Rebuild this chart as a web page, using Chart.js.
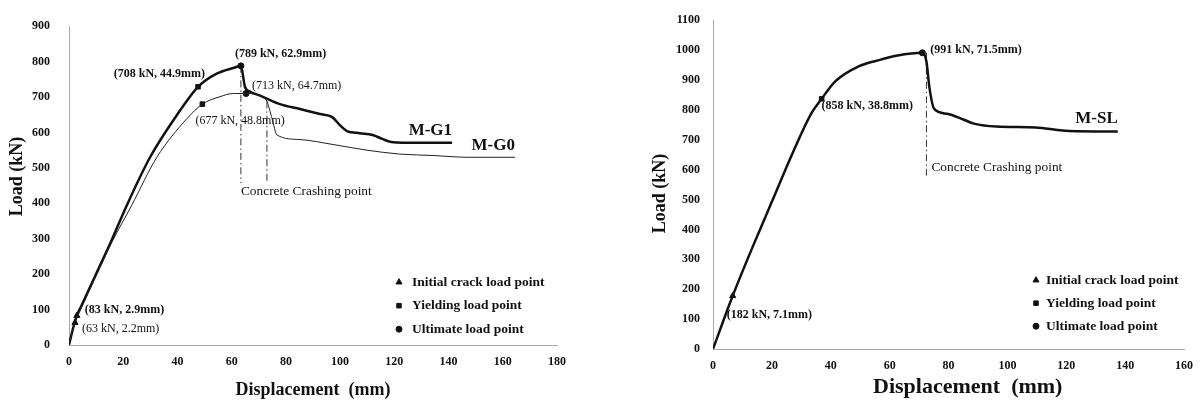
<!DOCTYPE html>
<html>
<head>
<meta charset="utf-8">
<script src="https://cdn.jsdelivr.net/npm/chart.js@4.4.1/dist/chart.umd.min.js"></script>
<style>
  body { margin: 0; background: #fff; width: 1203px; height: 403px; position: relative; overflow: hidden; }
  #box-g { position: absolute; left: 0; top: 0; width: 600px; height: 403px; }
  #box-sl { position: absolute; left: 600px; top: 0; width: 603px; height: 403px; }
</style>
</head>
<body>
<div id="box-g"><canvas id="carga-g"></canvas></div>
<div id="box-sl"><canvas id="carga-sl"></canvas></div>
<script>
// M-G1 / M-G0 (left chart)
const mg1Disp = [0, 1.6, 2.9, 4.7, 10.2, 15.1, 21.3, 29.9, 39.7, 47.6, 54.5, 60.6, 63.4, 64.9, 66.8, 70.5, 77.8, 85.2, 92.6, 97, 100, 102.5, 107.3, 112, 115.5, 118.4, 124.7, 141.3];
const mg1Load = [0, 50, 83, 113, 204, 285, 394, 530, 648, 729, 766, 782, 788, 729, 715, 704, 680, 666, 652, 644, 620, 604, 598, 593, 582, 574, 571, 571];
const mg0Disp = [0, 1.2, 2.2, 4.6, 10.3, 15.8, 23.1, 32.4, 43.5, 49.2, 55.7, 60.6, 65.3, 70.5, 73, 74.9, 76.7, 85.2, 97.4, 109.9, 122, 134.3, 146.8, 164.5];
const mg0Load = [0, 38, 63, 105, 200, 290, 394, 530, 639, 680, 701, 710, 710, 704, 688, 639, 593, 580, 566, 550, 539, 535, 530, 530];

// M-SL (right chart)
const mslDisp = [0, 6.7, 13.4, 20.1, 26.8, 33.5, 36.9, 41.6, 49.3, 57, 62.7, 71.1, 72.5, 73.5, 75.1, 79.5, 85.2, 88.6, 96.3, 109.7, 118.7, 129.8, 137.5];
const mslLoad = [0, 178, 340, 495, 650, 790, 837, 896, 945, 968, 982, 991, 962, 876, 804, 787, 767, 754, 744, 741, 731, 728, 728];

// crack / yielding / ultimate points [disp, load]
const mg1Crack = [2.9, 83], mg1Yield = [47.6, 729], mg1Ult = [63.4, 788];
const mg0Crack = [2.2, 63], mg0Yield = [49.2, 680], mg0Ult = [65.3, 710];
const mslCrack = [6.7, 178], mslYield = [36.9, 837], mslUlt = [71.1, 991];

// concrete crashing lines [disp, loadTop, loadBottom]
const crashG1 = [63.4, 788, 457];
const crashG0 = [73, 688, 457];
const crashSL = [72.5, 991, 580];

const ticksG = { xMax: 180, xStep: 20, yMax: 900, yStep: 100 };
const ticksSL = { xMax: 160, xStep: 20, yMax: 1100, yStep: 100 };

const legendNames = ['Initial crack load point', 'Yielding load point', 'Ultimate load point'];

const serif = 'Liberation Serif, Times New Roman, serif';

function pts(xs, ys) {
    return xs.map(function (x, i) { return { x: x, y: ys[i] }; });
}
function one(p) { return [{ x: p[0], y: p[1] }]; }
function vline(c) { return [{ x: c[0], y: c[1] }, { x: c[0], y: c[2] }]; }

// text labels anchored on data points + the little legend
const notesPlugin = {
    id: 'notes',
    afterDatasetsDraw(chart, args, opts) {
        const ctx = chart.ctx;
        const sx = chart.scales.x, sy = chart.scales.y;
        ctx.save();
        ctx.fillStyle = '#111';
        ctx.textBaseline = 'middle';
        opts.items.forEach(function (n) {
            ctx.font = (n.bold ? 'bold ' : '') + (n.size || 12) + 'px ' + serif;
            ctx.textAlign = n.align || 'left';
            ctx.fillText(n.text, sx.getPixelForValue(n.at[0]) + n.dx, sy.getPixelForValue(n.at[1]) + n.dy);
        });
        const lg = opts.legend;
        const styles = ['triangle', 'rect', 'circle'];
        const radii = [3.5, 3.2, 3];
        ctx.font = 'bold 13.5px ' + serif;
        ctx.textAlign = 'left';
        legendNames.forEach(function (name, i) {
            const x = chart.chartArea.left + lg.x;
            const y = chart.chartArea.top + lg.y + i * lg.gap;
            ctx.fillStyle = '#111';
            ctx.strokeStyle = '#111';
            Chart.helpers.drawPoint(ctx, { pointStyle: styles[i], radius: radii[i], rotation: 0, borderWidth: 1 }, x, y);
            ctx.fillStyle = '#111';
            ctx.fillText(name, x + lg.textGap, y);
        });
        ctx.restore();
    }
};

function markerSet(data, style, r) {
    return {
        data: data,
        showLine: false,
        pointStyle: style,
        pointRadius: r,
        backgroundColor: '#111',
        borderColor: '#111',
        borderWidth: 1
    };
}
function curveSet(data, w, color) {
    return {
        data: data,
        showLine: true,
        borderColor: color,
        borderWidth: w,
        pointRadius: 0,
        cubicInterpolationMode: 'monotone',
        fill: false
    };
}
function crashSet(data) {
    return {
        data: data,
        showLine: true,
        borderColor: '#333',
        borderWidth: 1,
        borderDash: [7, 3, 1.5, 3],
        pointRadius: 0
    };
}

function axes(t, yw, xh, yTitlePad, yTickPad, xTitle, xTitleSize, yTitle) {
    return {
        x: {
            type: 'linear', min: 0, max: t.xMax,
            ticks: { stepSize: t.xStep, padding: 10, color: '#111', font: { family: serif, size: 12, weight: 'bold' } },
            grid: { display: false, drawTicks: false },
            border: { display: true, color: '#a8a8a8', width: 1, dash: [1, 1.5] },
            title: { display: true, text: xTitle, color: '#111', padding: { top: 0, bottom: 2 }, font: { family: serif, size: xTitleSize, weight: 'bold' } },
            afterFit: function (s) { s.height = xh; }
        },
        y: {
            type: 'linear', min: 0, max: t.yMax,
            ticks: {
                stepSize: t.yStep, padding: yTickPad, color: '#111',
                font: { family: serif, size: 12, weight: 'bold' },
                callback: function (v) { return String(v); }
            },
            grid: { display: false, drawTicks: false },
            border: { display: true, color: '#a8a8a8', width: 1, dash: [1, 1.5] },
            title: { display: true, text: yTitle, color: '#111', padding: { top: yTitlePad, bottom: 0 }, font: { family: serif, size: 18, weight: 'bold' } },
            afterFit: function (s) { s.width = yw; }
        }
    };
}

const ctg = document.getElementById('carga-g').getContext('2d');
const chartG = new Chart(ctg, {
    type: 'scatter',
    data: {
        datasets: [
            curveSet(pts(mg0Disp, mg0Load), 1, '#222'),
            curveSet(pts(mg1Disp, mg1Load), 2.5, '#111'),
            crashSet(vline(crashG1)),
            crashSet(vline(crashG0)),
            markerSet(one(mg1Crack).concat(one(mg0Crack)), 'triangle', 3.5),
            markerSet(one(mg1Yield).concat(one(mg0Yield)), 'rect', 3.2),
            markerSet(one(mg1Ult).concat(one(mg0Ult)), 'circle', 3)
        ]
    },
    options: {
        responsive: true,
        maintainAspectRatio: false,
        animation: false,
        layout: { padding: { top: 14, right: 43, left: 0, bottom: 0 } },
        scales: axes(ticksG, 69, 58, 7, 19, 'Displacement  (mm)', 18, '    Load (kN)'),
        plugins: {
            legend: { display: false },
            tooltip: { enabled: false },
            notes: {
                legend: { x: 330, y: 256, gap: 23.5, textGap: 13 },
                items: [
                    { text: '(789 kN, 62.9mm)', at: mg1Ult, dx: -6, dy: -12, bold: true },
                    { text: '(708 kN, 44.9mm)', at: mg1Yield, dx: 7, dy: -13, bold: true, align: 'right' },
                    { text: '(713 kN, 64.7mm)', at: mg0Ult, dx: 6, dy: -8 },
                    { text: '(677 kN, 48.8mm)', at: mg0Yield, dx: -7, dy: 17 },
                    { text: '(83 kN, 2.9mm)', at: mg1Crack, dx: 8, dy: -6, bold: true },
                    { text: '(63 kN, 2.2mm)', at: mg0Crack, dx: 7, dy: 6 },
                    { text: 'M-G1', at: [mg1Disp[mg1Disp.length - 1], mg1Load[mg1Load.length - 1]], dx: 0, dy: -12, bold: true, size: 17, align: 'right' },
                    { text: 'M-G0', at: [mg0Disp[mg0Disp.length - 1], mg0Load[mg0Load.length - 1]], dx: 0, dy: -12, bold: true, size: 17, align: 'right' },
                    { text: 'Concrete Crashing point', at: [crashG1[0], crashG1[2]], dx: 0, dy: 8, size: 13.4 }
                ]
            }
        }
    },
    plugins: [notesPlugin]
});

const cts = document.getElementById('carga-sl').getContext('2d');
const chartSL = new Chart(cts, {
    type: 'scatter',
    data: {
        datasets: [
            curveSet(pts(mslDisp, mslLoad), 2.5, '#111'),
            crashSet(vline(crashSL)),
            markerSet(one(mslCrack), 'triangle', 3.5),
            markerSet(one(mslYield), 'rect', 3.2),
            markerSet(one(mslUlt), 'circle', 3)
        ]
    },
    options: {
        responsive: true,
        maintainAspectRatio: false,
        animation: false,
        layout: { padding: { top: 15, right: 13, left: 0, bottom: 0 } },
        scales: axes(ticksSL, 113, 54, 50, 13, '       Displacement  (mm)', 22, 'Load (kN)    '),
        plugins: {
            legend: { display: false },
            tooltip: { enabled: false },
            notes: {
                legend: { x: 323, y: 260, gap: 23, textGap: 10 },
                items: [
                    { text: '(991 kN, 71.5mm)', at: mslUlt, dx: 8, dy: -3, bold: true },
                    { text: '(858 kN, 38.8mm)', at: mslYield, dx: 0, dy: 7, bold: true },
                    { text: '(182 kN, 7.1mm)', at: mslCrack, dx: -6, dy: 19, bold: true },
                    { text: 'M-SL', at: [mslDisp[mslDisp.length - 1], mslLoad[mslLoad.length - 1]], dx: 0, dy: -13, bold: true, size: 17, align: 'right' },
                    { text: 'Concrete Crashing point', at: [crashSL[0], crashSL[2]], dx: 5, dy: -8, size: 13.4 }
                ]
            }
        }
    },
    plugins: [notesPlugin]
});
</script>
</body>
</html>
